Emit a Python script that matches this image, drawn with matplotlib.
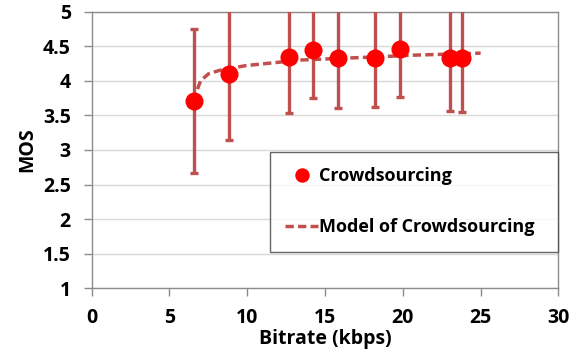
import numpy as np
import matplotlib.pyplot as plt

plt.rcParams['font.family'] = ['Open Sans', 'DejaVu Sans']
plt.rcParams['font.weight'] = 'bold'

# crowdsourcing measurements (bitrate kbps, MOS, lower/upper error)
bitrate = [6.6, 8.8, 12.65, 14.2, 15.85, 18.2, 19.8, 23.0, 23.8]
mos = [3.71, 4.10, 4.34, 4.45, 4.33, 4.33, 4.46, 4.33, 4.33]
err_low = [1.04, 0.95, 0.81, 0.70, 0.73, 0.71, 0.70, 0.76, 0.78]
err_high = [1.04, 0.95, 0.81, 0.70, 0.73, 0.71, 0.70, 0.76, 0.78]

# model curve
model_x = [6.8, 7.0, 7.5, 8.2, 9.9, 12.1, 13.4, 15.5, 18.7, 20.6, 25.0]
model_y = [3.88, 4.00, 4.10, 4.15, 4.22, 4.27, 4.30, 4.32, 4.35, 4.37, 4.40]

err_color = '#C0504D'
grid_color = '#D9D9D9'
axis_color = '#8C8C8C'

fig = plt.figure(figsize=(5.71, 3.64), dpi=100)
ax = fig.add_axes([0.1606, 0.208, 0.8174, 0.760])

ax.errorbar(bitrate, mos, yerr=[err_low, err_high], fmt='none',
            ecolor=err_color, elinewidth=2.4, capsize=3, capthick=2.4, zorder=3)
ax.plot(model_x, model_y, linestyle=(0, (2.4, 1.2)), color=err_color, lw=2.5,
        label='Model of Crowdsourcing', zorder=4)
ax.plot(bitrate, mos, 'o', color='#FF0000', markersize=13, markeredgewidth=0,
        label='Crowdsourcing', zorder=5)

ax.set_xlim(0, 30)
ax.set_ylim(1, 5)
ax.set_xticks([0, 5, 10, 15, 20, 25, 30])
ax.set_yticks([1, 1.5, 2, 2.5, 3, 3.5, 4, 4.5, 5])
ax.set_yticklabels(['1', '1.5', '2', '2.5', '3', '3.5', '4', '4.5', '5'])
ax.yaxis.grid(True, color=grid_color, lw=1)
ax.set_axisbelow(True)
for s in ax.spines.values():
    s.set_color(axis_color)
    s.set_linewidth(1)
ax.tick_params(axis='both', colors=axis_color, labelcolor='black', labelsize=14,
               length=6, width=1)
ax.tick_params(axis='x', pad=8)
ax.tick_params(axis='y', pad=9)
ax.set_xlabel('Bitrate (kbps)', fontsize=14, fontweight='bold', labelpad=1)
ax.set_ylabel('MOS', fontsize=14, fontweight='bold', labelpad=4)

handles, labels = ax.get_legend_handles_labels()
leg = ax.legend(handles[::-1], labels[::-1], loc='lower left',
                bbox_to_anchor=(0.382, 0.132, 0.618, 0.362), mode='expand',
                fontsize=13, frameon=True, fancybox=False, handlelength=1.8,
                handletextpad=0.05, labelspacing=1.85, borderpad=0.85,
                borderaxespad=0, markerscale=0.8)
leg.get_frame().set_edgecolor('#404040')
leg.get_frame().set_linewidth(1)

fig.savefig('out.png', dpi=100)
